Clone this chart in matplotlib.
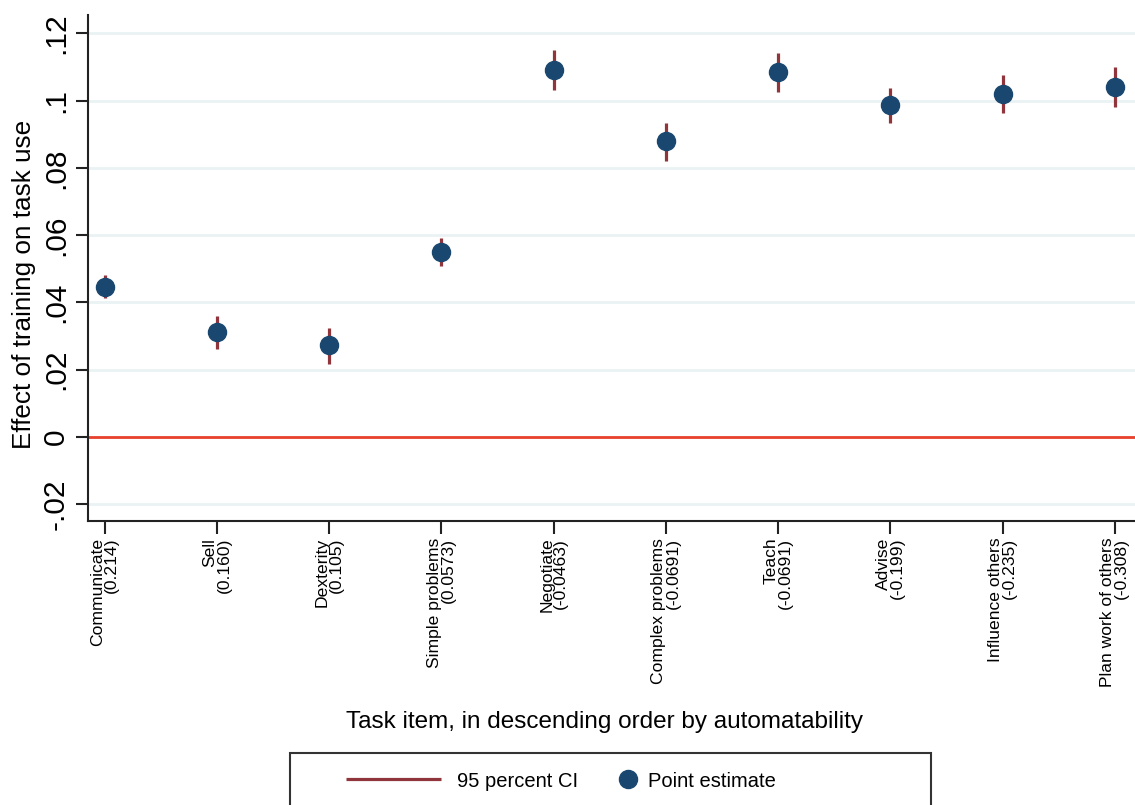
import numpy as np
import matplotlib.pyplot as plt
from matplotlib.patches import Rectangle

plt.rcParams['font.family'] = ['Liberation Sans', 'DejaVu Sans']

tasks = ['Communicate', 'Sell', 'Dexterity', 'Simple problems', 'Negotiate',
         'Complex problems', 'Teach', 'Advise', 'Influence others',
         'Plan work of others']
autom = ['0.214', '0.160', '0.105', '0.0573', '-0.0463',
         '-0.0691', '-0.0691', '-0.199', '-0.235', '-0.308']
est = [0.0446, 0.0311, 0.0272, 0.0551, 0.1090,
       0.0880, 0.1085, 0.0988, 0.1021, 0.1040]
ci_lo = [0.0412, 0.0262, 0.0218, 0.0508, 0.1031,
         0.0821, 0.1026, 0.0935, 0.0963, 0.0981]
ci_hi = [0.0481, 0.0361, 0.0324, 0.0592, 0.1150,
         0.0934, 0.1143, 0.1039, 0.1077, 0.1100]
yticks = [-0.02, 0, 0.02, 0.04, 0.06, 0.08, 0.1, 0.12]
ytick_labels = ['-.02', '0', '.02', '.04', '.06', '.08', '.1', '.12']

navy = '#1a476f'
maroon = '#90353b'

fig = plt.figure(figsize=(11.35, 8.05), dpi=100)
ax = fig.add_axes([88/1135, (805-521)/805, 1 - 88/1135, (521-15)/805])

x = np.arange(1, len(tasks) + 1)
for yv in yticks:
    ax.axhline(yv, color='#eaf2f3', lw=2, zorder=0)
ax.axhline(0, color='#e8412c', lw=2, zorder=1)
ci = ax.vlines(x, ci_lo, ci_hi, color=maroon, lw=2.3, zorder=2)
pts, = ax.plot(x, est, 'o', color=navy, ms=13, zorder=3)

ax.set_xlim(0.85, 10.18)
ax.set_ylim(-0.025, 0.1255)
ax.set_yticks(yticks)
ax.set_yticklabels(ytick_labels, rotation=90, va='center', fontsize=21.5)
ax.set_xticks(x)
ax.set_xticklabels([f'{t}\n({a})' for t, a in zip(tasks, autom)],
                   rotation=90, va='top', ha='center', multialignment='right',
                   fontsize=12.6, linespacing=0.92)
ax.tick_params(axis='both', length=9, width=1.5, color='#222222')
ax.tick_params(axis='y', pad=4)
ax.tick_params(axis='x', pad=3)
for s in ['top', 'right']:
    ax.spines[s].set_visible(False)
for s in ['left', 'bottom']:
    ax.spines[s].set_linewidth(1.5)
    ax.spines[s].set_color('#222222')

ax.set_ylabel('Effect of training on task use', fontsize=18.8, labelpad=4, y=0.468)
fig.text(604/1135, 1 - 722/805, 'Task item, in descending order by automatability',
         ha='center', va='center', fontsize=17.5)

# legend box runs off the bottom of the figure
fig.patches.append(Rectangle((290/1135, -0.05), (931-290)/1135, 0.05 + (805-753)/805,
                             transform=fig.transFigure, fill=False,
                             edgecolor='#333333', lw=1.5, clip_on=False))
leg_y = 1 - 781/805
fig.legend([ci], ['95 percent CI'], loc='center left',
           bbox_to_anchor=(346/1135, leg_y), frameon=False, fontsize=14.5,
           handlelength=4.7, handletextpad=0.8, borderpad=0, borderaxespad=0)
fig.legend([pts], ['Point estimate'], loc='center left',
           bbox_to_anchor=(617/1135, leg_y), frameon=False, fontsize=14.5,
           handlelength=1.1, handletextpad=0.45, borderpad=0, borderaxespad=0)

fig.savefig('out.png', dpi=100)
